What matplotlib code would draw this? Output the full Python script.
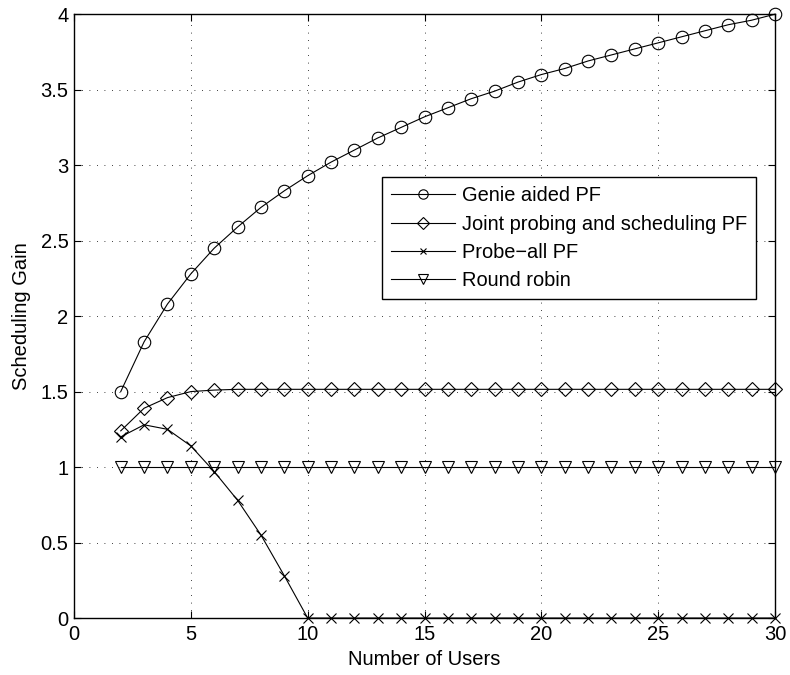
import matplotlib
matplotlib.use("Agg")
import matplotlib.pyplot as plt

# number of users on the x axis
users = list(range(2, 31))

genie_pf = [1.50, 1.83, 2.08, 2.28, 2.45, 2.59, 2.72, 2.83, 2.93, 3.02,
            3.10, 3.18, 3.25, 3.32, 3.38, 3.44, 3.49, 3.55, 3.60, 3.64,
            3.69, 3.73, 3.77, 3.81, 3.85, 3.89, 3.93, 3.96, 4.00]
joint_pf = [1.24, 1.39, 1.46, 1.50, 1.51] + [1.515] * 24
probe_all_pf = [1.20, 1.28, 1.25, 1.14, 0.97, 0.78, 0.55, 0.28] + [0.0] * 21
round_robin = [1.0] * 29

labels = ["Genie aided PF", "Joint probing and scheduling PF",
          "Probe\u2212all PF", "Round robin"]
markers = ["o", "D", "x", "v"]
sizes = [9, 7.5, 6.5, 9]

plt.rcParams["font.family"] = ["Liberation Sans", "DejaVu Sans"]
plt.rcParams["font.size"] = 14

fig = plt.figure(figsize=(7.9, 6.75), dpi=100)
ax = fig.add_axes([0.0937, 0.0844, 0.8873, 0.8946])

series = [genie_pf, joint_pf, probe_all_pf, round_robin]
for vals, lab, mk, ms in zip(series, labels, markers, sizes):
    ax.plot(users, vals, color="black", linewidth=0.8, marker=mk,
            markersize=ms, markerfacecolor="none", markeredgecolor="black",
            markeredgewidth=0.8, label=lab, clip_on=False, zorder=3)

ax.set_xlim(0, 30)
ax.set_ylim(0, 4)
ax.set_xticks(range(0, 31, 5))
ax.set_yticks([0, 0.5, 1, 1.5, 2, 2.5, 3, 3.5, 4])
ax.set_yticklabels(["0", "0.5", "1", "1.5", "2", "2.5", "3", "3.5", "4"])
ax.tick_params(direction="in", top=True, right=True, length=5,
               width=0.8, labelsize=14.5)
ax.tick_params(axis="x", pad=5)
ax.tick_params(axis="y", pad=4)
ax.grid(True, color="black", linestyle=(0, (1, 8)), linewidth=0.6)
for sp in ax.spines.values():
    sp.set_linewidth(1.0)

ax.set_xlabel("Number of Users", fontsize=14.5, labelpad=4)
ax.set_ylabel("Scheduling Gain", fontsize=14.5, labelpad=7)

leg = ax.legend(loc="upper left", bbox_to_anchor=(0.4394, 0.730),
                prop={"size": 14.4},
                fancybox=False, framealpha=1, edgecolor="black",
                handlelength=3.2, borderpad=0.45, markerscale=0.75,
                labelspacing=0.47, handletextpad=0.36, borderaxespad=0)
leg.get_frame().set_linewidth(1.0)

fig.savefig("out.png", dpi=100)
